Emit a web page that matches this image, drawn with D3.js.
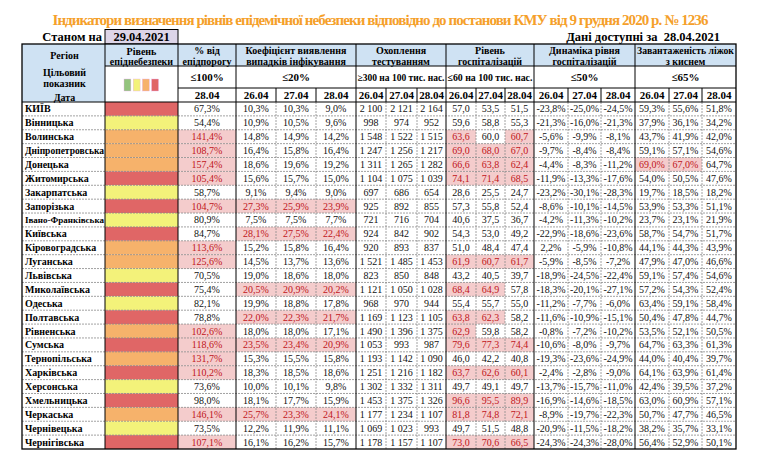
<!DOCTYPE html>
<html><head><meta charset="utf-8">
<script src="https://cdn.jsdelivr.net/npm/d3@7"></script>
<style>
body{margin:0;background:#fff}
svg{display:block}
text{font-family:"Liberation Serif","Times New Roman",serif}
</style>
</head><body>
<svg id="c" width="757" height="455"></svg>
<script>
// ---------------- DATA ----------------
const title = "Індикатори визначення рівнів епідемічної небезпеки відповідно до постанови КМУ від 9 грудня 2020 р. № 1236";
const asOfLabel = "Станом на";
const asOfDate = "29.04.2021";
const availableLabel = "Дані доступні за  28.04.2021";
const dates = ["26.04", "27.04", "28.04"];
const pctDate = "28.04";
const groupHeaders = [
  ["% від", "епідпорогу"],
  ["Коефіцієнт виявлення", "випадків інфікування"],
  ["Охоплення", "тестуванням"],
  ["Рівень", "госпіталізацій"],
  ["Динаміка рівня", "госпіталізацій"],
  ["Завантаженість ліжок", "з киснем"]
];
const targets = ["≤100%", "≤20%", "≥300 на 100 тис. нас.", "≤60 на 100 тис. нас.", "≤50%", "≤65%"];
const legendLevels = ["green", "yellow", "orange", "red"];

const regions = ["КИЇВ","Вінницька","Волинська","Дніпропетровська","Донецька","Житомирська","Закарпатська","Запорізька","Івано-Франківська","Київська","Кіровоградська","Луганська","Львівська","Миколаївська","Одеська","Полтавська","Рівненська","Сумська","Тернопільська","Харківська","Херсонська","Хмельницька","Черкаська","Чернівецька","Чернігівська"];
const levels = ["red","yellow","orange","orange","orange","red","yellow","red","yellow","red","orange","orange","yellow","red","yellow","red","orange","red","orange","red","yellow","red","orange","yellow","red"];
const pctOfThreshold = [67.3,54.4,141.4,108.7,157.4,105.4,58.7,104.7,80.9,84.7,113.6,125.6,70.5,75.4,82.1,78.8,102.6,118.6,131.7,110.2,73.6,98.0,146.1,73.5,107.1];
const detectionRate = [
  [10.3,10.3,9.0],[10.9,10.5,9.6],[14.8,14.9,14.2],[16.4,15.8,16.4],[18.6,19.6,19.2],
  [15.6,15.7,15.0],[9.1,9.4,9.0],[27.3,25.9,23.9],[7.5,7.5,7.7],[28.1,27.5,22.4],
  [15.2,15.8,16.4],[14.5,13.7,13.6],[19.0,18.6,18.0],[20.5,20.9,20.2],[19.9,18.8,17.8],
  [22.0,22.3,21.7],[18.0,18.0,17.1],[23.5,23.4,20.9],[15.3,15.5,15.8],[18.3,18.5,18.6],
  [10.0,10.1,9.8],[18.1,17.7,15.9],[25.7,23.3,24.1],[12.2,11.9,11.1],[16.1,16.2,15.7]
];
const testing = [
  [2100,2121,2164],[998,974,952],[1548,1522,1515],[1247,1256,1217],[1311,1265,1282],
  [1104,1075,1039],[697,686,654],[925,892,855],[721,716,704],[924,842,902],
  [920,893,837],[1521,1485,1453],[823,850,848],[1121,1050,1028],[968,970,944],
  [1169,1123,1105],[1490,1396,1375],[1053,993,987],[1193,1142,1090],[1251,1216,1182],
  [1302,1332,1311],[1453,1375,1326],[1177,1234,1107],[1069,1023,993],[1178,1157,1107]
];
const hospitalization = [
  [57.0,53.5,51.5],[59.6,58.8,55.3],[63.6,60.0,60.7],[69.0,68.0,67.0],[66.6,63.8,62.4],
  [74.1,71.4,68.5],[28.6,25.5,24.7],[57.3,55.8,52.4],[40.6,37.5,36.7],[54.3,53.0,49.2],
  [51.0,48.4,47.4],[61.9,60.7,61.7],[43.2,40.5,39.7],[68.4,64.9,57.8],[55.4,55.7,55.0],
  [63.8,62.3,58.2],[62.9,59.8,58.2],[79.6,77.3,74.4],[46.0,42.2,40.8],[63.7,62.6,60.1],
  [49.7,49.1,49.7],[96.6,95.5,89.9],[81.8,74.8,72.1],[49.7,51.5,48.8],[73.0,70.6,66.5]
];
const hospDynamics = [
  [-23.8,-25.0,-24.5],[-21.3,-16.0,-21.3],[-5.6,-9.9,-8.1],[-9.7,-8.4,-8.4],[-4.4,-8.3,-11.2],
  [-11.9,-13.3,-17.6],[-23.2,-30.1,-28.3],[-8.6,-10.1,-14.5],[-4.2,-11.3,-10.2],[-22.9,-18.6,-23.6],
  [2.2,-5.9,-10.8],[-5.9,-8.5,-7.2],[-18.9,-24.5,-22.4],[-18.3,-20.1,-27.1],[-11.2,-7.7,-6.0],
  [-11.6,-10.9,-15.1],[-0.8,-7.2,-10.2],[-10.6,-8.0,-9.7],[-19.3,-23.6,-24.9],[-2.4,-2.8,-9.0],
  [-13.7,-15.7,-11.0],[-16.9,-14.6,-18.5],[-8.9,-19.7,-22.3],[-20.9,-11.5,-18.2],[-24.3,-24.3,-28.0]
];
const oxygenBeds = [
  [59.3,55.6,51.8],[37.9,36.1,34.2],[43.7,41.9,42.0],[59.1,57.1,54.6],[69.0,67.0,64.7],
  [54.0,50.5,47.6],[19.7,18.5,18.2],[53.9,53.3,51.1],[23.7,23.1,21.9],[58.7,54.7,51.7],
  [44.1,44.3,43.9],[47.9,47.0,46.6],[59.1,57.4,54.6],[57.2,54.3,52.4],[63.4,59.1,58.4],
  [50.4,47.8,44.7],[53.5,52.1,50.5],[64.7,63.3,61.3],[44.0,40.4,39.7],[64.1,63.9,61.4],
  [42.4,39.5,37.2],[63.0,60.9,57.1],[50.7,47.7,46.5],[38.2,35.7,33.1],[56.4,52.9,50.1]
];

// ---------------- LAYOUT / STYLE ----------------
const svg = d3.select("#c");
const levelColor = d3.scaleOrdinal().domain(["green","yellow","orange","red"]).range(["#93c47d","#f3f27a","#f6b26b","#e06666"]);
const headBlue = "#cfe2f3";
const pinkFill = "#f4cccc";
const redText = "#c0151a";

const loc = d3.formatLocale({decimal: ",", thousands: " ", grouping: [3], currency: ["", ""]});
const f1 = loc.format(".1f");
const fInt = loc.format(",d");
const pct = v => f1(v).replace("−", "-") + "%";

function fit(sel, maxW) {
  const w = sel.node().getComputedTextLength();
  if (w > maxW) sel.attr("font-size", +sel.attr("font-size") * maxW / w);
  return sel;
}

// column edges (18 columns)
const edges = [22,105,178,236,276,316,356,386,417,446,476,505,534,568,601,635,669,702,736];
const colX = i => edges[i];
const colW = i => edges[i+1] - edges[i];
const colC = i => (edges[i] + edges[i+1]) / 2;

const yTop = 44, yR2 = 66, yR3 = 88, yData = 102, yBottom = 449;
const y = d3.scaleBand().domain(regions).range([yData, yBottom]);

// title (tighten letter spacing to fit the reference width)
const tt = svg.append("text").attr("x", 380).attr("y", 25).attr("text-anchor", "middle")
  .attr("font-weight", "bold").attr("font-size", 15).attr("fill", "#f5a02a").text(title);
const tw = tt.node().getComputedTextLength();
if (tw > 655) tt.attr("letter-spacing", ((655 - tw) / title.length).toFixed(3) + "px");
const tw2 = tt.node().getComputedTextLength();
if (tw2 > 670) tt.attr("font-size", 15 * 655 / tw2);

svg.append("text").attr("x", 102).attr("y", 41).attr("text-anchor", "end")
  .attr("font-weight", "bold").attr("font-size", 12.5).text(asOfLabel);
svg.append("rect").attr("x", 105).attr("y", 29.5).attr("width", 73).attr("height", 14.5)
  .attr("fill", "#ddd5e8").attr("stroke", "#000").attr("stroke-width", 1);
svg.append("text").attr("x", 141.5).attr("y", 41).attr("text-anchor", "middle")
  .attr("font-weight", "bold").attr("font-size", 12.5).text(asOfDate);
svg.append("text").attr("x", 720).attr("y", 41).attr("text-anchor", "end")
  .attr("font-weight", "bold").attr("font-size", 12.5).attr("xml:space", "preserve").text(availableLabel);

// header backgrounds
svg.append("rect").attr("x", edges[0]).attr("y", yTop).attr("width", colW(0)).attr("height", yData - yTop).attr("fill", headBlue);
svg.append("rect").attr("x", edges[1]).attr("y", yTop).attr("width", edges[18] - edges[1]).attr("height", yR2 - yTop).attr("fill", headBlue);

const groups = [[2,3],[3,6],[6,9],[9,12],[12,15],[15,18]];
const hdr = svg.append("g").attr("font-weight", "bold").attr("text-anchor", "middle");

const regHdr = [["Регіон", 55], ["Цільовий", 72], ["показник", 83], ["Дата", 97]];
regHdr.forEach(([s, yy]) => hdr.append("text").attr("x", colC(0) + 1).attr("y", yy).attr("dy", "0.35em").attr("font-size", 10).text(s));
[["Рівень", 51], ["епіднебезпеки", 61]].forEach(([s, yy]) => hdr.append("text").attr("x", colC(1)).attr("y", yy).attr("dy", "0.35em").attr("font-size", 10).text(s));
const lx = d3.scaleBand().domain(legendLevels).range([124, 158.5]).paddingInner(0.25);
svg.selectAll("rect.leg").data(legendLevels).join("rect").attr("class", "leg")
  .attr("x", d => lx(d)).attr("y", 79).attr("width", lx.bandwidth()).attr("height", 12)
  .attr("fill", d => levelColor(d)).attr("stroke", "#e8b0e8").attr("stroke-width", 0.4);

groups.forEach(([a, b], gi) => {
  const cx = (edges[a] + edges[b]) / 2;
  const gw = edges[b] - edges[a];
  groupHeaders[gi].forEach((s, li) => fit(hdr.append("text").attr("x", cx).attr("y", li ? 61 : 50.5).attr("dy", "0.35em").attr("font-size", 10).text(s), gw - 4));
  fit(hdr.append("text").attr("x", cx).attr("y", 77.5).attr("dy", "0.35em").attr("font-size", 11).text(targets[gi]), gw - 3);
  for (let c = a; c < b; c++) {
    const lab = (b - a === 1) ? pctDate : dates[c - a];
    hdr.append("text").attr("x", colC(c)).attr("y", 95.5).attr("dy", "0.35em").attr("font-size", 11).text(lab);
  }
});

// ---------------- DATA ROWS ----------------
const indicators = [
  {vals: regions.map((r, i) => [pctOfThreshold[i]]), start: 2, fmt: pct, bad: v => v > 100},
  {vals: detectionRate, start: 3, fmt: pct, bad: v => v > 20},
  {vals: testing, start: 6, fmt: fInt, bad: v => v < 300},
  {vals: hospitalization, start: 9, fmt: f1, bad: v => v > 60},
  {vals: hospDynamics, start: 12, fmt: pct, bad: v => v > 50},
  {vals: oxygenBeds, start: 15, fmt: pct, bad: v => v > 65}
];

const rows = svg.append("g");
regions.forEach((r, i) => {
  const yy = y(r), h = y.bandwidth();
  rows.append("rect").attr("x", colX(1)).attr("y", yy).attr("width", colW(1)).attr("height", h).attr("fill", levelColor(levels[i]));
  fit(rows.append("text").attr("x", 25).attr("y", yy + h / 2).attr("dy", "0.35em")
    .attr("font-weight", "bold").attr("font-size", 10).text(r), 79);
  indicators.forEach(ind => {
    ind.vals[i].forEach((v, k) => {
      const c = ind.start + k;
      const bad = ind.bad(v);
      if (bad) rows.append("rect").attr("x", colX(c)).attr("y", yy).attr("width", colW(c)).attr("height", h).attr("fill", pinkFill);
      rows.append("text").attr("x", colC(c)).attr("y", yy + h / 2).attr("dy", "0.35em")
        .attr("text-anchor", "middle").attr("font-size", 10).attr("fill", bad ? redText : "#111")
        .text(ind.fmt(v));
    });
  });
});

// ---------------- GRID ----------------
const grid = svg.append("g");
regions.slice(1).forEach(r => {
  grid.append("line").attr("x1", edges[0]).attr("x2", edges[18]).attr("y1", y(r)).attr("y2", y(r))
    .attr("stroke", "#8a8a8a").attr("stroke-width", 0.8).attr("stroke-dasharray", "2,1");
});
const groupEdgeIdx = new Set([0,1,2,3,6,9,12,15,18]);
edges.forEach((e, i) => {
  if (!groupEdgeIdx.has(i)) {
    grid.append("line").attr("x1", e).attr("x2", e).attr("y1", yData).attr("y2", yBottom)
      .attr("stroke", "#8a8a8a").attr("stroke-width", 0.8).attr("stroke-dasharray", "2,1");
    grid.append("line").attr("x1", e).attr("x2", e).attr("y1", yR3).attr("y2", yData).attr("stroke", "#000").attr("stroke-width", 1);
  }
});
[1,2,3,6,9,12,15].forEach(i => {
  grid.append("line").attr("x1", edges[i]).attr("x2", edges[i]).attr("y1", yTop).attr("y2", yBottom).attr("stroke", "#000").attr("stroke-width", 1);
});
grid.append("line").attr("x1", edges[1]).attr("x2", edges[18]).attr("y1", yR2).attr("y2", yR2).attr("stroke", "#000").attr("stroke-width", 1);
grid.append("line").attr("x1", edges[2]).attr("x2", edges[18]).attr("y1", yR3).attr("y2", yR3).attr("stroke", "#000").attr("stroke-width", 1);
grid.append("line").attr("x1", edges[0]).attr("x2", edges[18]).attr("y1", yData).attr("y2", yData).attr("stroke", "#000").attr("stroke-width", 1.2);
grid.append("rect").attr("x", edges[0]).attr("y", yTop).attr("width", edges[18] - edges[0]).attr("height", yBottom - yTop)
  .attr("fill", "none").attr("stroke", "#000").attr("stroke-width", 1.3);
</script>
</body></html>
